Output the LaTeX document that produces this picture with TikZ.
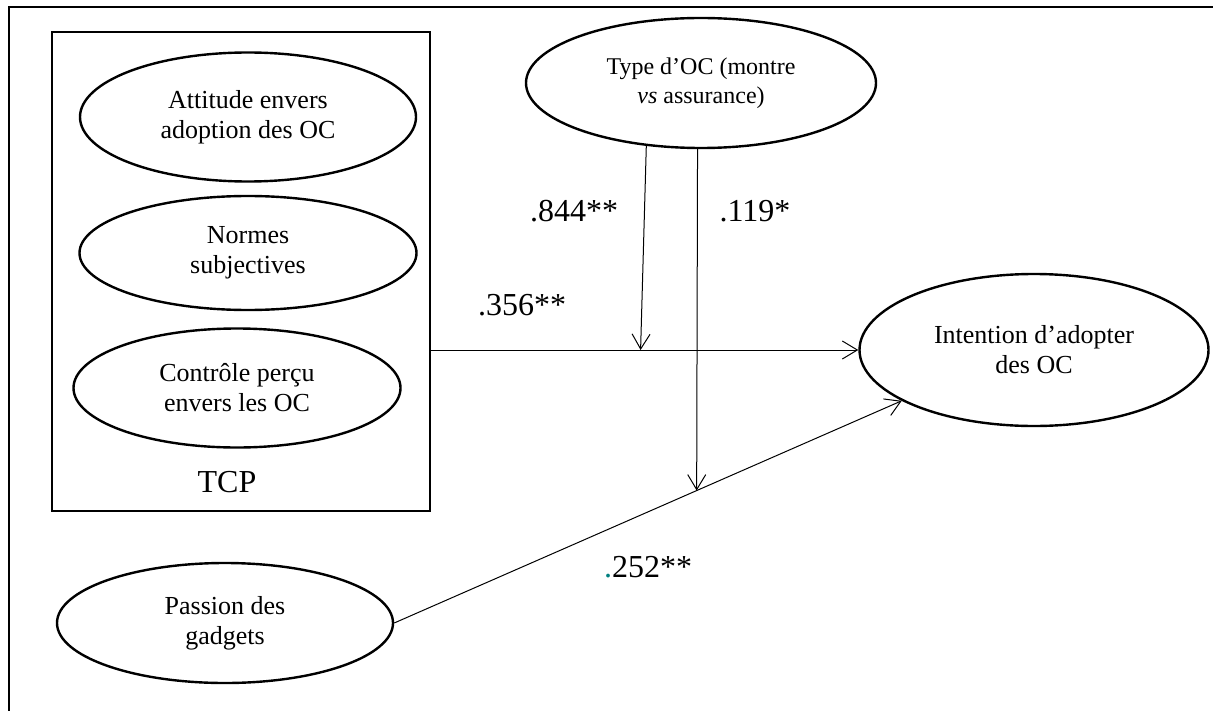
\documentclass[tikz,border=0pt]{standalone}
\usepackage{fontspec}
\setmainfont{Liberation Serif}
\usepackage{xcolor}
\usepackage{tikz}
\usetikzlibrary{arrows.meta,shapes.geometric,calc}

\begin{document}
\begin{tikzpicture}[x=0.5pt, y=-0.5pt,
    oval/.style={draw, ellipse, line width=1.2pt, inner sep=0pt, align=center, font=\fontsize{13}{15}\selectfont},
    coef/.style={font=\fontsize{16}{18}\selectfont},
    link/.style={line width=0.5pt, -{Straight Barb[length=7.5pt, width=9pt]}}]
    \useasboundingbox (0,0) rectangle (1213,711);
    % Frame
    \draw[line width=0.9pt] (1213,7) -- (9,7) -- (9,711);
    % Block TCP
    \node[draw, line width=1.4pt, minimum width=189pt, minimum height=239.5pt] (tcp) at (241,271.5) {};
    \node[coef] (tcplbl) at (227,482) {TCP};
    \node[oval, minimum width=168pt, minimum height=64.5pt] (att) at (248,117) {Attitude envers\\adoption des OC};
    \node[oval, minimum width=168.5pt, minimum height=57pt] (norm) at (248,253) {Normes\\subjectives};
    \node[oval, minimum width=163.5pt, minimum height=59.5pt] (ctrl) at (237,388) {Contrôle perçu\\envers les OC};
    % Moderator
    \node[oval, minimum width=175pt, minimum height=65pt, font=\fontsize{12}{14.5}\selectfont] (type) at (701,83) {Type d’OC (montre\\\textit{vs} assurance)};
    % Passion
    \node[oval, minimum width=168pt, minimum height=60pt] (passion) at (225,623) {Passion des\\gadgets};
    % Outcome
    \node[oval, minimum width=174.5pt, minimum height=76pt] (intent) at (1034,350) {Intention d’adopter\\des OC};
    % Paths
    \draw[link] (tcp.east |- intent.west) -- (intent.west);
    \coordinate (j1) at ($(tcp.east |- intent.west)!0.49!(intent.west)$);
    \draw[link] (type.229) -- (j1);
    \draw[link] (passion.east) -- (intent.201);
    \coordinate (j2) at ($(passion.east)!0.596!(intent.201)$);
    \draw[link] (type.267) -- (j2);
    % Coefficients
    \node[coef] (c844) at (574,211) {.844**};
    \node[coef] (c119) at (755,211) {.119*};
    \node[coef] (c356) at (522,305) {.356**};
    \node[coef] (c252) at (648,567) {\textcolor{teal}{.}252**};
\end{tikzpicture}
\end{document}
